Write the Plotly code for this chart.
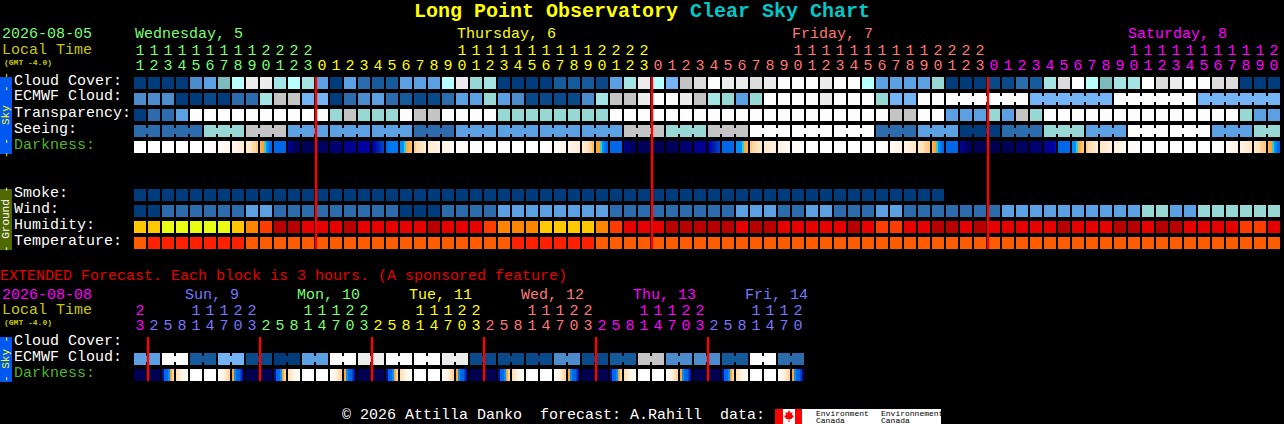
import plotly.graph_objects as go

# ---------------- data ----------------
main_hours = [11,12,13,14,15,16,17,18,19,20,21,22,23] + list(range(24)) + list(range(24)) + list(range(21))
main_day_of_col = [0]*13 + [1]*24 + [2]*24 + [3]*21
ext_hours = [23] + [2,5,8,11,14,17,20,23]*5 + [2,5,8,11,14,17,20]
ext_day_of_col = [3] + [4]*8 + [0]*8 + [1]*8 + [2]*8 + [3]*8 + [4]*7
day_colors = ["#77ff77", "#ffff00", "#ff7777", "#ff00ff", "#7777ff"]
main_midnights = [12.5, 36.5, 60.5]
ext_midnights = [0.5, 8.5, 16.5, 24.5, 32.5, 40.5]

# 0..14 clear-to-overcast style levels, 15..20 humidity, 21..22 temperature
level_colors = ["#003c7c", "#0a4a8a", "#155a9a", "#2c6cac", "#4c8ccc", "#5ca0e4", "#74b4f4",
                "#7cbcbc", "#98d8d4", "#a4e4e4", "#b8ffff", "#c4c4c4", "#dcdcdc", "#ececec", "#fdfdfd",
                "#e8fc14", "#ffc800", "#ff8400", "#ff3c00", "#e60000", "#b80000",
                "#ff5c00", "#ff2000"]

cloud_cover = [0,0,0,0,4,5,7,10,13,13,9,10,9,5,0,5,3,2,2,5,5,
               5,10,13,8,9,0,0,0,0,2,2,2,1,5,9,13,10,6,11,12,14,13,13,12,13,14,14,14,13,14,14,
               10,5,5,5,5,8,0,0,0,1,1,3,2,9,12,14,10,7,9,9,14,12,13,14,14,12,12,0,0,0]
ecmwf_cloud = [4,4,4,0,0,1,0,3,3,9,11,11,6,6,0,3,4,5,3,2,1,
               1,3,5,5,8,5,4,1,1,1,1,4,9,11,11,13,14,14,13,11,9,8,5,8,14,14,14,14,13,14,14,
               14,8,6,6,14,14,14,14,14,14,14,14,6,6,6,6,6,6,14,14,14,14,14,14,6,6,6,6,6,6]
transparency = [0,3,3,5,14,14,14,14,14,14,14,14,14,14,8,11,8,8,8,14,11,
                11,14,14,14,14,8,8,8,8,8,8,8,8,14,14,14,14,14,14,14,14,14,14,14,14,14,14,14,14,14,14,
                14,14,11,11,14,14,5,5,5,8,5,11,8,14,14,14,14,14,14,14,14,14,14,14,14,14,14,8,5,5]
seeing = [3,3,3,3,3,8,8,8,11,11,11,5,5,5,5,5,5,5,5,5,3,
          3,3,5,5,5,5,5,5,5,5,5,5,5,5,11,11,11,8,8,8,11,11,11,14,14,14,14,14,14,14,14,
          14,3,3,3,5,5,5,0,0,0,3,3,3,8,8,8,5,5,5,14,14,14,14,14,14,5,5,5,8,8]
smoke = [0]*58 + [None]*24
wind = [0,0,3,3,3,3,3,3,5,5,3,3,3,3,3,3,3,3,3,0,0,
        0,3,3,3,3,5,5,5,5,5,5,5,5,3,3,3,3,3,3,3,3,3,5,5,5,3,3,5,5,3,3,
        3,5,5,3,3,3,3,3,3,3,5,5,5,5,5,5,5,5,5,5,8,8,5,5,8,8,8,8,8,8]
humidity = [16,16,15,15,15,15,15,16,17,18,20,20,19,19,19,20,19,19,19,19,19,
            20,19,19,19,18,17,17,17,16,16,16,16,17,18,19,19,19,20,20,20,20,20,19,20,20,19,19,19,19,19,20,
            19,18,18,19,19,20,20,19,20,19,19,19,19,19,20,19,19,19,20,20,19,20,20,19,19,19,19,18,18,19]
temperature = [21,22,22,22,22,22,22,22] + [21]*19 + [22]*6 + [21]*49

seeing_runs = [(0,1),(2,4),(5,7),(8,10),(11,13),(14,16),(17,19),(20,22),(23,25),(26,28),(29,31),(32,34),
               (35,37),(38,40),(41,43),(44,46),(47,49),(50,52),(53,55),(56,58),(59,61),(62,64),(65,67),
               (68,70),(71,73),(74,76),(77,79),(80,81)]
ecmwf_runs = [(58,63),(64,69),(70,75),(76,81)]

W = [100]*6
main_darkness = [
    W, W, W, W, W,
    [100,99,98,98,97,97], [96,96,95,94,93,92], [92,90,90,88,88,86], [86,84,82,78,76,72], [68,65,60,55,52,50],
    [50]*6, [30,20,12,10,8,8], [5]*6, [10]*6, [15]*6, [25]*6, [30]*6, [30,32,34,36,38,40], [50,51,52,52,52,52],
    [55,55,60,66,68,70], [74,78,80,82,84,86], [86,87,88,88,89,90], [90,91,92,92,93,94], [95,95,96,96,97,97],
    [98,98,99,99,100,100], W, W, W, W,
    [100,99,99,98,98,97], [97,96,95,94,93,92], [92,90,89,88,87,86], [86,84,82,78,74,70], [66,65,60,55,52,50],
    [50]*6, [28,18,15,12,12,10], [8]*6, [5]*6, [8]*6, [15]*6, [25]*6, [30,32,34,36,38,40], [50]*6,
    [55,55,55,60,66,68], [72,76,78,80,82,84], [84,85,86,87,88,88], [89,90,91,92,93,94], [95,96,96,97,98,98],
    W, W, W, W, W,
    [100,99,99,98,98,97], [97,95,94,92,91,90], [90,88,87,86,85,84], [84,82,80,76,74,72], [68,65,60,55,52,50],
    [50]*6, [30,25,15,10,10,8], [5]*6, [3]*6, [5]*6, [10]*6, [15]*6, [25,26,28,30,30,32], [50]*6,
    [55,55,60,66,68,72], [74,78,80,82,84,86], [82,84,85,86,88,88], [89,90,90,92,92,94], [95,96,96,97,98,98],
    W, W, W, W, W,
    [100,99,99,98,98,97], [97,95,94,92,91,90], [90,88,87,86,85,84], [84,82,80,76,74,72], [68,65,60,55,52,50],
]

ext_ecmwf = [5,5,14,14,2,2,6,6,1,1,0,0,5,5,14,14,13,13,14,14,14,14,13,13,
             1,1,1,1,1,1,4,4,1,1,2,2,11,11,4,4,4,4,2,2,14,14,3,3]
ext_runs = [(i, i+1) for i in range(0, 48, 2)]
N = [4]*6
ext_darkness = [
    N, N, [32,50,50,55,66,76], [80,84,88,92,95,98], W, W, [98,95,90,86,80,76], [66,55,50,50,40,20],
    N, N, [32,50,50,55,66,76], [80,84,88,92,95,98], W, W, [98,95,90,86,80,76], [66,55,50,50,40,20],
    N, N, [32,50,50,55,66,76], [80,84,88,92,95,98], W, W, [98,95,90,86,80,76], [66,55,50,50,40,20],
    N, N, [32,50,50,55,66,76], [80,84,88,92,95,98], W, W, [98,95,90,86,80,76], [66,55,50,50,40,20],
    N, N, [32,50,50,55,66,76], [80,84,88,92,95,98], W, W, [98,95,90,86,80,76], [66,55,50,50,40,20],
    N, N, [32,50,50,55,66,76], [80,84,88,92,95,98], W, W, [98,95,90,86,80,76], [66,55,50,50,40,20],
]

for s in (cloud_cover, ecmwf_cloud, transparency, seeing, smoke, wind, humidity, temperature, main_darkness, main_hours):
    assert len(s) == 82, len(s)
assert len(ext_ecmwf) == 48 and len(ext_darkness) == 48 and len(ext_hours) == 48

# ---------------- scales ----------------
W_PX, H_PX = 1284, 424
COL, ROW = 14, 16
FONT = "Liberation Mono"
X0 = -0.5 - 133 / COL

def px(v): return v / W_PX
def py(v): return 1 - v / H_PX

n = len(level_colors)
level_scale = []
for k, c in enumerate(level_colors):
    level_scale += [[k / n, c], [(k + 1) / n, c]]
dark_scale = [[0.00, "#000048"], [0.10, "#000060"], [0.20, "#000080"], [0.30, "#0000a0"], [0.40, "#0040c8"],
              [0.50, "#0068e8"], [0.55, "#0090ff"], [0.60, "#30d0d0"], [0.65, "#ffa030"], [0.72, "#ffc880"],
              [0.80, "#ffe0b8"], [0.88, "#fff0dc"], [0.95, "#fffaf4"], [1.00, "#ffffff"]]

fig = go.Figure()

def blocks(rows, ncols, yaxis):
    fig.add_trace(go.Heatmap(z=rows, x=list(range(ncols)), y=list(range(len(rows))), xgap=2, ygap=4,
                             zmin=-0.5, zmax=n-0.5, colorscale=level_scale, showscale=False,
                             hoverinfo="skip", yaxis=yaxis))

def connectors(row_runs, ncols, yaxis):
    # narrow bridges between blocks of one forecast period, on a 2 px brick grid
    rows, ys = [], []
    for y, values, runs in row_runs:
        line = [None] * (ncols * 7)
        for a, b in runs:
            for c in range(a, b):
                line[c * 7 + 6] = values[c]
        rows.append(line)
        ys.append(y)
    fig.add_trace(go.Heatmap(z=rows, x0=-0.5 + 2 / COL, dx=1 / 7, y=ys, ygap=10,
                             zmin=-0.5, zmax=n-0.5, colorscale=level_scale, showscale=False,
                             hoverinfo="skip", yaxis=yaxis))

def darkness(values, y, yaxis):
    line = []
    for cell in values:
        line += list(cell) + [None]
    fig.add_trace(go.Heatmap(z=[line], x0=-0.5 + 2 / COL, dx=1 / 7, y0=y, dy=1, ygap=4,
                             zmin=0, zmax=100, colorscale=dark_scale, showscale=False,
                             hoverinfo="skip", yaxis=yaxis))

def red_lines(cols, y0, y1, yaxis):
    xs, ys = [], []
    for m in cols:
        xs += [m + 1 / COL, m + 1 / COL, None]
        ys += [y0, y1, None]
    fig.add_trace(go.Scatter(x=xs, y=ys, mode="lines", line=dict(color="#ff0000", width=2.4),
                             hoverinfo="skip", yaxis=yaxis))

def hour_digits(hours, day_of_col, tens_y, units_y, yaxis):
    cols = list(range(len(hours)))
    colors = [day_colors[d] for d in day_of_col]
    fig.add_trace(go.Scatter(x=cols, y=[tens_y] * len(cols), mode="text", yaxis=yaxis, hoverinfo="skip",
                             text=[str(h // 10) if h >= 10 else "" for h in hours],
                             textposition="middle center",
                             textfont=dict(family=FONT, size=15, color=colors)))
    fig.add_trace(go.Scatter(x=cols, y=[units_y] * len(cols), mode="text", yaxis=yaxis, hoverinfo="skip",
                             text=[str(h % 10) for h in hours],
                             textposition="middle center",
                             textfont=dict(family=FONT, size=15, color=colors)))

# main panel
empty = [None] * 82
blocks([cloud_cover, ecmwf_cloud, transparency, seeing, empty, empty, empty, smoke, wind, humidity, temperature], 82, "y")
connectors([(1, ecmwf_cloud, ecmwf_runs), (2, empty, []), (3, seeing, seeing_runs)], 82, "y")
darkness(main_darkness, 4, "y")
red_lines(main_midnights, -0.375, 10.375, "y")
hour_digits(main_hours, main_day_of_col, (51 - 83) / ROW, (66 - 83) / ROW, "y")

# extended panel
blocks([[None] * 48, ext_ecmwf], 48, "y2")
connectors([(1, ext_ecmwf, ext_runs)], 48, "y2")
darkness(ext_darkness, 2, "y2")
red_lines(ext_midnights, -0.375, 2.375, "y2")
hour_digits(ext_hours, ext_day_of_col, (311 - 343) / ROW, (326 - 343) / ROW, "y2")

# ---------------- texts ----------------
ann = []
def label(text, x, y, color="#ffffff", size=15, anchor="left", angle=0, bold=False):
    ann.append(dict(text=f"<b>{text}</b>" if bold else text, x=px(x), y=py(y), xref="paper", yref="paper",
                    xanchor=anchor, yanchor="middle", showarrow=False, textangle=angle, borderpad=0,
                    font=dict(family=FONT, size=size, color=color)))

label('Long Point Observatory <span style="color:#00c8c8">Clear Sky Chart</span>', 412.5, 12, "#ffff00", 20, bold=True)
OLIVE = "#c8c800"
GREEN = "#50b428"
label("2026-08-05", 1, 35, "#77ff77")
label("Local Time", 1, 50, OLIVE)
label("(GMT -4.0)", 2.5, 62, OLIVE, 8, bold=True)
for text, x, c in [("Wednesday, 5", 134, 0), ("Thursday, 6", 456, 1), ("Friday, 7", 791, 2), ("Saturday, 8", 1127, 3)]:
    label(text, x, 35, day_colors[c])
for text, y in [("Cloud Cover:", 81), ("ECMWF Cloud:", 97), ("Transparency:", 113), ("Seeing:", 129),
                ("Smoke:", 193), ("Wind:", 209), ("Humidity:", 225), ("Temperature:", 241)]:
    label(text, 13, y)
label("Darkness:", 13, 145, GREEN)

label("EXTENDED Forecast. Each block is 3 hours. (A sponsored feature)", -1, 276, "#e60000")
label("2026-08-08", 1, 295, "#ff00ff")
label("Local Time", 1, 310, OLIVE)
label("(GMT -4.0)", 2.5, 322, OLIVE, 8, bold=True)
for text, x, c in [("Sun, 9", 184, 4), ("Mon, 10", 296, 0), ("Tue, 11", 408, 1), ("Wed, 12", 520, 2),
                   ("Thu, 13", 632, 3), ("Fri, 14", 744, 4)]:
    label(text, x, 295, day_colors[c])
label("Cloud Cover:", 13, 341)
label("ECMWF Cloud:", 13, 357)
label("Darkness:", 13, 373, GREEN)
label("© 2026 Attilla Danko\u00a0\u00a0forecast: A.Rahill\u00a0\u00a0data:", 341, 415)

label("-\u00a0-\u00a0\u00a0Sky\u00a0\u00a0-\u00a0-", 6, 115, "#ffff00", 11, "center", -90)
label("-\u00a0Ground\u00a0-", 6, 219, "#ffffff", 11, "center", -90)
label("-\u00a0Sky\u00a0-", 6, 359, "#ffff00", 11, "center", -90)

label("Environment", 815, 413, "#000000", 8)
label("Canada", 815, 420, "#000000", 8)
label("Environnement", 880, 413, "#000000", 8)
label("Canada", 880, 420, "#000000", 8)

# ---------------- decorations ----------------
def rect(x0, y0, x1, y1, color):
    return dict(type="rect", xref="paper", yref="paper", x0=px(x0), x1=px(x1), y0=py(y0), y1=py(y1),
                fillcolor=color, line=dict(width=0), layer="below")

shapes = [rect(0, 77, 12, 154, "#0058f0"), rect(0, 189, 12, 250, "#506800"), rect(0, 337, 12, 382, "#0058f0"),
          rect(775, 409, 802, 424, "#ff0000"), rect(783, 409, 795, 424, "#ffffff"), rect(802, 409, 941, 424, "#ffffff")]
leaf = [(789, 410), (790.5, 413), (792.5, 412), (792, 415), (794, 416), (791.5, 419), (789.5, 419), (789.5, 422),
        (788.5, 422), (788.5, 419), (786.5, 419), (784, 416), (786, 415), (785.5, 412), (787.5, 413)]
shapes.append(dict(type="path", xref="paper", yref="paper", layer="above", fillcolor="#ff0000", line=dict(width=0),
                   path="M" + " L".join(f"{px(a)},{py(b)}" for a, b in leaf) + " Z"))

fig.update_layout(
    width=W_PX, height=H_PX, margin=dict(l=0, r=0, t=0, b=0, pad=0), showlegend=False,
    paper_bgcolor="#000000", plot_bgcolor="#000000", annotations=ann, shapes=shapes,
    xaxis=dict(range=[X0, X0 + W_PX / COL], visible=False, fixedrange=True, domain=[0, 1]),
    yaxis=dict(range=[(H_PX - 83) / ROW, -83 / ROW], visible=False, fixedrange=True, domain=[0, 1]),
    yaxis2=dict(range=[(H_PX - 343) / ROW, -343 / ROW], visible=False, fixedrange=True, domain=[0, 1],
                overlaying="y"),
)

fig.write_html("out.html", config=dict(displayModeBar=False),
               post_script="document.body.style.margin='0';document.body.style.background='#000';document.body.style.overflow='hidden';")
